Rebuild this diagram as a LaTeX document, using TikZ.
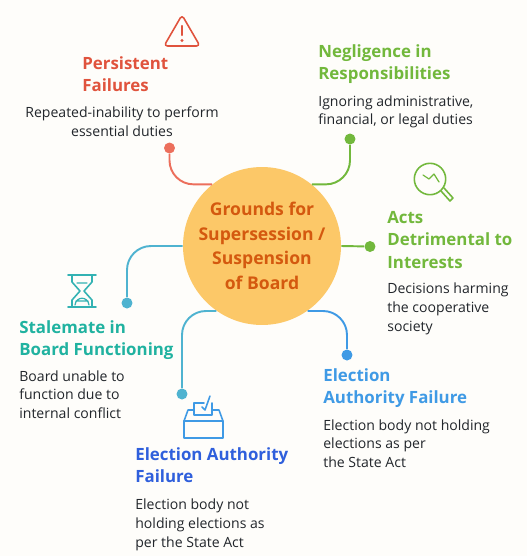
\documentclass[tikz,border=0pt]{standalone}
\usepackage{fontspec}
\setmainfont{Open Sans}
\usepackage{xcolor}
\usetikzlibrary{positioning,calc}
\definecolor{paper}{HTML}{FEFDFA}
\definecolor{hubfill}{HTML}{FCC868}
\definecolor{hubtext}{HTML}{D4590F}
\definecolor{redc}{HTML}{E0533D}
\definecolor{redl}{HTML}{EC6F5C}
\definecolor{greenc}{HTML}{72B83C}
\definecolor{tealc}{HTML}{20B2A0}
\definecolor{tealb}{HTML}{4FB3D0}
\definecolor{bluec}{HTML}{3F9AE5}
\definecolor{royalc}{HTML}{2F5FDC}
\definecolor{inkc}{HTML}{22262B}
\tikzset{
  hub/.style    = {circle, fill=hubfill, minimum size=3.16cm, inner sep=0pt, align=center,
                   text=hubtext, font=\fontsize{10}{14}\selectfont\bfseries},
  head/.style   = {inner sep=0pt, align=left, font=\fontsize{9.6}{12.75}\selectfont\bfseries},
  body/.style   = {inner sep=0pt, align=left, text=inkc, font=\fontsize{8}{10.8}\selectfont},
  enddot/.style = {circle, fill, minimum size=0.22cm, inner sep=0pt},
  link/.style   = {line width=1.1pt, rounded corners=0.48cm},
  icon/.style   = {line width=0.9pt, line join=round, line cap=round},
}
\begin{document}
\begin{tikzpicture}[x=0.02cm, y=-0.02cm]
  \useasboundingbox[fill=paper] (0,0) rectangle (527,556);
  \node[hub] (center) at (262,246) {Grounds for\\Supersession /\\Suspension\\of Board};

  % headings and their text
  \node[head, text=redc, anchor=north west] (persist) at (82,56) {Persistent\\Failures};
  \node[body, align=center, below=0.28cm of persist.south west, anchor=north, xshift=0.8cm] (persistb)
       {Repeated-inability to perform\\essential duties};
  \node[head, text=greenc, anchor=north west] (neglect) at (318,44) {Negligence in\\Responsibilities};
  \node[body, below=0.22cm of neglect.south west, anchor=north west] (neglectb)
       {Ignoring administrative,\\financial, or legal duties};
  \node[head, text=greenc, anchor=north west] (acts) at (387,211) {Acts\\Detrimental to\\Interests};
  \node[body, below=0.28cm of acts.south west, anchor=north west] (actsb)
       {Decisions harming\\the cooperative\\society};
  \node[head, text=tealc, anchor=north west] (stale) at (19,320) {Stalemate in\\Board Functioning};
  \node[body, below=0.2cm of stale.south west, anchor=north west] (staleb)
       {Board unable to\\function due to\\internal conflict};
  \node[head, text=bluec, anchor=north west] (elecr) at (323,368) {Election\\Authority Failure};
  \node[body, below=0.22cm of elecr.south west, anchor=north west] (elecrb)
       {Election body not holding\\elections as per\\the State Act};
  \node[head, text=royalc, anchor=north west] (elecl) at (135,447) {Election Authority\\Failure};
  \node[body, below=0.3cm of elecl.south west, anchor=north west] (eleclb)
       {Election body not\\holding elections as\\per the State Act};

  % end dots
  \node[enddot, redl] (dred) at (169.5,148) {};
  \node[enddot, greenc] (dgreen) at (350,139) {};
  \node[enddot, greenc] (dacts) at (370,246.5) {};
  \node[enddot, tealb] (dstale) at (127,303) {};
  \node[enddot, tealb] (delecl) at (182,394) {};
  \node[enddot, bluec] (delecr) at (347,355) {};

  % connectors
  \draw[link, redl] (dred) |- (center.129);
  \draw[link, greenc] (dgreen) |- (center.51);
  \draw[link, greenc] (center.east) -- (dacts);
  \draw[link, tealb] (dstale) |- (center.west);
  \draw[link, tealb] (delecl) |- (center.235);
  \draw[link, bluec] (delecr) |- (center.305);

  % warning sign
  \draw[icon, redc, rounded corners=2pt] (182,15) -- (200,46) -- (164,46) -- cycle;
  \draw[icon, redc, line width=1.3pt] (182,26) -- (182,35);
  \fill[redc] (182,40.5) circle (1.7);
  % magnifier
  \draw[icon, greenc] (430,179) circle (15.7);
  \draw[icon, greenc] (441,191) -- (450,201) -- (453,198) -- (444,188);
  \draw[icon, greenc, line width=0.7pt] (423,175) -- (429,179) -- (434,174) -- (439,182);
  % hourglass
  \draw[icon, tealc!60!tealb] (68,275) -- (96,275) (68,307) -- (96,307);
  \draw[icon, tealc!60!tealb] (72,275) -- (72,282) -- (80,291) -- (72,300) -- (72,307)
        (92,275) -- (92,282) -- (84,291) -- (92,300) -- (92,307);
  \draw[icon, tealc!60!tealb, line width=0.7pt] (77,283) -- (87,283) (75,305) .. controls (76,296) and (88,296) .. (89,305)
        (76,301) -- (88,301);
  % ballot box
  \draw[icon, bluec] (184,421) rectangle (223,438);
  \draw[icon, bluec] (184,421) -- (188,410) -- (194,410) (223,421) -- (219,410) -- (212,410);
  \draw[icon, bluec] (204,403) -- (194,403) -- (194,415) -- (212,415) -- (212,403);
  \draw[icon, bluec] (202,407) -- (205,410) -- (210,396);
\end{tikzpicture}
\end{document}
